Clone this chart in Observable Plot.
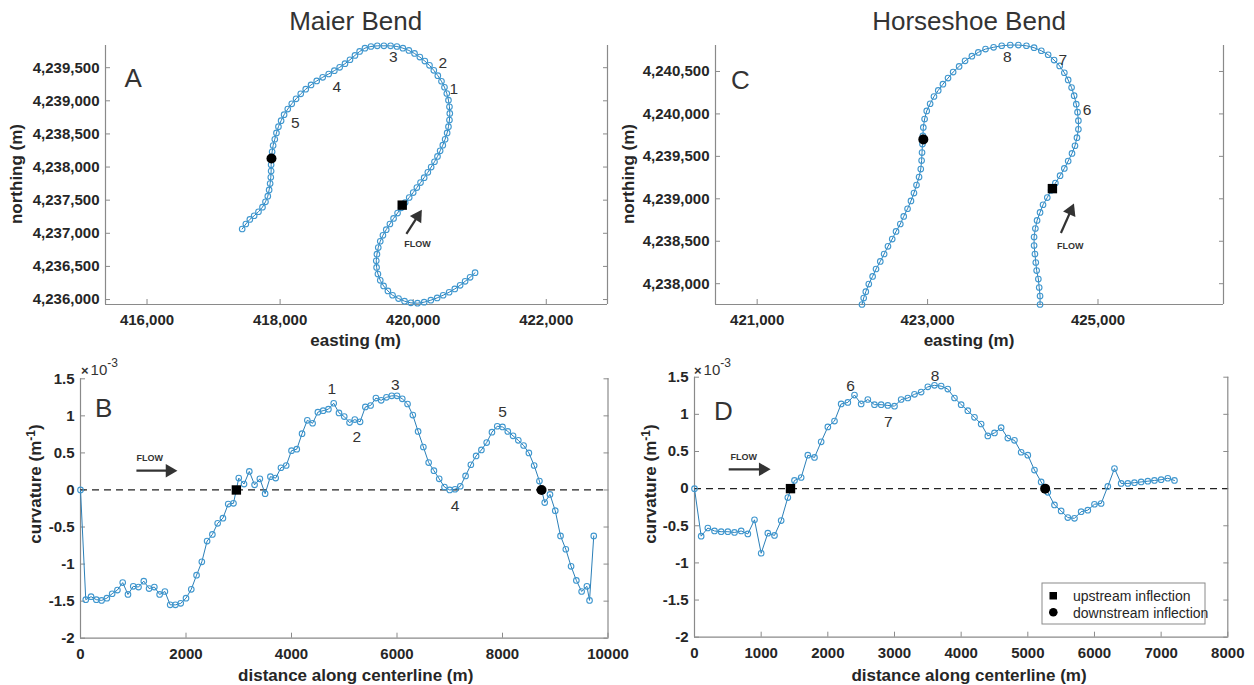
<!DOCTYPE html>
<html><head><meta charset="utf-8">
<script src="https://cdn.jsdelivr.net/npm/d3@7"></script>
<script src="https://cdn.jsdelivr.net/npm/@observablehq/plot@0.6"></script>
<style>
html,body{margin:0;padding:0;background:#fff;}
#root{position:relative;width:1254px;height:685px;overflow:hidden;font-family:"Liberation Sans",Arial,Helvetica,sans-serif;}
.panel{position:absolute;}
</style></head><body><div id="root"></div>
<script>
// ---------------- DATA ----------------
// Panel A: Maier Bend centerline (easting, northing in m), upstream end first
const eastA = [420930,420855,420780,420705,420625,420540,420450,420360,420265,420165,420065,419965,419870,419780,419690,419620,419555,419505,419470,419450,419445,419455,419475,419505,419545,419595,419650,419705,419765,419820,
419880,419940,420000,420055,420110,420165,420220,420270,420320,420365,420405,420445,420480,420510,420530,420545,420550,420545,420530,420505,420470,420425,420370,420310,420245,420175,420100,420020,419935,419845,419755,419660,419560,419460,419365,419275,419195,419125,419050,418975,418895,418815,418730,418640,418550,418465,418385,418310,418240,418175,418115,418060,418015,417975,417945,417920,417895,417880,
417865,417865,417860,417850,417835,417815,417780,417735,417675,417610,417545,417485,417430];
const northA = [4236405,4236335,4236275,4236215,4236160,4236110,4236065,4236025,4235990,4235960,4235945,4235950,4235975,4236015,4236065,4236130,4236205,4236290,4236385,4236485,4236585,4236685,4236785,4236880,4236970,4237055,4237140,4237225,4237305,4237385,
4237465,4237540,4237615,4237690,4237765,4237840,4237920,4238000,4238080,4238160,4238245,4238330,4238420,4238515,4238610,4238710,4238810,4238910,4239010,4239110,4239205,4239295,4239380,4239460,4239535,4239600,4239660,4239715,4239760,4239795,4239820,4239830,4239830,4239830,4239820,4239795,4239745,4239685,4239620,4239560,4239505,4239455,4239405,4239355,4239300,4239240,4239175,4239105,4239030,4238955,4238875,4238790,4238700,4238610,4238515,4238420,4238325,4238230,
4238035,4237940,4237845,4237750,4237655,4237560,4237475,4237395,4237325,4237265,4237210,4237140,4237065];
const inflA = {up: [419835, 4237425], down: [417870, 4238130]};
const bendLabelsA = ["1","2","3","4","5"];
const bendEastA = [420610,420444,419700,418851,418230];
const bendNorthA = [4239173,4239564,4239659,4239208,4238661];

// Panel C: Horseshoe Bend centerline
const eastC = [424320,424320,424310,424300,424280,424270,424260,424250,424250,424265,424285,424320,424355,424405,424450,
424500,424555,424605,424650,424695,424730,424753,424770,424770,424760,424745,424720,424690,424650,424605,424550,424485,424415,424335,424250,424160,424065,423970,423870,423775,423680,423595,423520,423440,423370,423300,423240,423180,423125,423075,423030,422990,422965,422950,422945,422940,422935,422930,422920,422900,422870,422840,422805,422765,422720,422680,422630,422585,422535,422490,422445,422395,422355,422310,422275,422250,422230];
const northC = [4237755,4237855,4237955,4238055,4238155,4238250,4238350,4238450,4238550,4238650,4238745,4238840,4238930,4239015,4239100,
4239185,4239272,4239358,4239445,4239535,4239625,4239720,4239818,4239920,4240020,4240115,4240215,4240310,4240400,4240485,4240565,4240634,4240697,4240744,4240780,4240803,4240811,4240811,4240803,4240785,4240764,4240725,4240680,4240625,4240560,4240493,4240422,4240350,4240277,4240205,4240120,4240035,4239940,4239841,4239743,4239645,4239545,4239450,4239350,4239256,4239162,4239068,4238975,4238883,4238793,4238703,4238616,4238526,4238440,4238350,4238263,4238173,4238086,4237996,4237906,4237831,4237755];
const inflC = {up: [424465, 4239120], down: [422950, 4239700]};
const bendLabelsC = ["6","7","8"];
const bendEastC = [424871,424588,423937];
const bendNorthC = [4240049,4240638,4240670];

// Panel B: Maier Bend curvature (x 10^-3 1/m) vs distance (m)
const distB = [0,100,200,300,400,500,600,700,800,900,1000,1100,1200,1300,1400,1500,1600,1700,1800,1900,2000,2100,2200,2300,2400,2500,2600,2700,2800,2900,3000,3100,3200,3300,3400,3500,3600,3700,3800,3900,4000,4100,4200,4300,4400,4500,4600,4700,4800,4900,5000,5100,5200,5300,5400,5500,5600,5700,5800,5900,6000,6100,6200,6300,6400,6500,6600,6700,6800,6900,7000,7100,7200,7300,7400,7500,7600,7700,7800,7900,8000,8100,8200,8300,8400,8500,8600,8700,8800,8900,9000,9100,9200,9300,9400,9500,9600,9650,9730];
const curvB = [0,-1.48,-1.44,-1.48,-1.49,-1.46,-1.40,-1.35,-1.25,-1.41,-1.30,-1.31,-1.23,-1.33,-1.31,-1.41,-1.37,-1.55,-1.55,-1.53,-1.46,-1.34,-1.15,-0.97,-0.69,-0.60,-0.45,-0.38,-0.19,-0.18,0.16,0.08,0.25,0.07,0.15,-0.05,0.18,0.16,0.30,0.33,0.53,0.55,0.76,0.94,0.90,1.05,1.07,1.09,1.17,1.04,0.99,0.91,0.95,0.92,1.12,1.14,1.24,1.21,1.25,1.27,1.27,1.23,1.16,1.01,0.79,0.58,0.37,0.26,0.15,0.04,0.00,0.01,0.05,0.19,0.34,0.46,0.54,0.64,0.78,0.86,0.85,0.79,0.73,0.67,0.60,0.50,0.33,0.12,-0.17,-0.06,-0.28,-0.62,-0.80,-1.03,-1.22,-1.37,-1.30,-1.49,-0.62];
const inflB = {up: 2955, down: 8740};
const bendLabelsB = ["1","2","3","4","5"];
const bendDistB = [4764,5238,5970,7099,8000];
const bendCurvB = [1.36,0.71,1.41,-0.21,1.05];

// Panel D: Horseshoe Bend curvature
const distD = [0,100,200,300,400,500,600,700,800,900,1000,1100,1200,1300,1400,1500,1600,1700,1800,1900,2000,2100,2200,2300,2400,2500,2600,2700,2800,2900,3000,3100,3200,3300,3400,3500,3600,3700,3800,3900,4000,4100,4200,4300,4400,4500,4600,4700,4800,4900,5000,5100,5200,5300,5400,5500,5600,5700,5800,5900,6000,6100,6200,6300,6400,6500,6600,6700,6800,6900,7000,7100,7200];
const curvD = [0,-0.64,-0.53,-0.57,-0.58,-0.58,-0.59,-0.57,-0.61,-0.42,-0.87,-0.60,-0.63,-0.43,-0.12,0.11,0.15,0.45,0.42,0.63,0.83,0.91,1.14,1.16,1.26,1.14,1.20,1.13,1.13,1.12,1.11,1.20,1.22,1.27,1.30,1.37,1.39,1.38,1.34,1.22,1.13,1.05,0.96,0.87,0.71,0.75,0.82,0.68,0.65,0.49,0.45,0.25,0.09,-0.05,-0.22,-0.30,-0.39,-0.40,-0.31,-0.29,-0.21,-0.20,0.03,0.27,0.07,0.07,0.08,0.09,0.10,0.11,0.12,0.14,0.11];
const inflD = {up: 1440, down: 5260};
const bendLabelsD = ["6","7","8"];
const bendDistD = [2341,2907,3607];
const bendCurvD = [1.38,0.90,1.52];

// Tick values
const xTicksA = [416000,418000,420000,422000];
const yTicksA = [4236000,4236500,4237000,4237500,4238000,4238500,4239000,4239500];
const xTicksC = [421000,423000,425000];
const yTicksC = [4238000,4238500,4239000,4239500,4240000,4240500];
const xTicksB = [0,2000,4000,6000,8000,10000];
const xTicksD = [0,1000,2000,3000,4000,5000,6000,7000,8000];
const yTicksCurv = [-2,-1.5,-1,-0.5,0,0.5,1,1.5];

// Flow arrows (tail, head) and FLOW text positions
const flowA = {tail: [419898, 4236992], head: [420067, 4237256], angle: 32.7, text: [420063, 4236842]};
const flowC = {tail: [424565, 4238597], head: [424681, 4238860], angle: 23.8, text: [424675, 4238440]};
const flowB = {tail: [1060, 0.26], head: [1690, 0.26], angle: 90, text: [1315, 0.435]};
const flowD = {tail: [513, 0.26], head: [1025, 0.26], angle: 90, text: [739, 0.42]};

// ---------------- STYLE ----------------
const FONT = "'Liberation Sans', Arial, Helvetica, sans-serif";
const STYLE = `overflow: visible; background: transparent; font-family: ${FONT};`;
const AXIS = "#8a8a8a";
const TXT = "#262626";
const LINE = "#2b7fb8";
const MARK = "#3f97cf";
const ANN = "#333333";
const fmtComma = d3.format(",");
const fmtPlain = d => String(d);

function commonMarks(o) {
  return [
    Plot.ruleX(o.xd, {stroke: AXIS, strokeWidth: 1.2}),
    Plot.ruleY([o.yd[0]], {stroke: AXIS, strokeWidth: 1.2}),
    Plot.axisX(o.xt, {anchor: "bottom", tickSize: -5, tickPadding: 15, stroke: AXIS, fill: TXT, fontSize: 15, fontWeight: "bold", tickFormat: o.xf, label: null}),
    Plot.axisY(o.yt, {anchor: "left", tickSize: -5, tickPadding: 11, stroke: AXIS, fill: TXT, fontSize: 15, fontWeight: "bold", tickFormat: o.yf, label: null}),
    Plot.axisY(o.yt, {anchor: "right", tickSize: -5, stroke: AXIS, fill: "none", label: null})
  ];
}

function flowMarks(f) {
  return [
    Plot.link([f], {x1: d => d.tail[0], y1: d => d.tail[1], x2: d => d.head[0], y2: d => d.head[1], stroke: ANN, strokeWidth: 2.2}),
    Plot.dot([f], {x: d => d.head[0], y: d => d.head[1], symbol: "triangle", r: 5, fill: ANN, stroke: "none", rotate: f.angle}),
    Plot.text([f], {x: d => d.text[0], y: d => d.text[1], text: () => "FLOW", fontSize: 9, fontWeight: "bold", fill: ANN})
  ];
}

function panel(o) {
  const pts = o.X.map((x, i) => ({x, y: o.Y[i]}));
  const labs = o.labs.map((t, i) => ({t, x: o.labX[i], y: o.labY[i]}));
  const marks = [
    ...commonMarks(o),
    ...(o.zero ? [Plot.ruleY([0], {stroke: "#222", strokeWidth: 1.2, strokeDasharray: "7,5"})] : []),
    Plot.line(pts, {x: "x", y: "y", stroke: LINE, strokeWidth: 1}),
    Plot.dot(pts, {x: "x", y: "y", r: 2.8, stroke: MARK, strokeWidth: 1.1, fill: "none"}),
    Plot.dot([o.up], {x: d => d[0], y: d => d[1], symbol: "square", r: 5.3, fill: "black", stroke: "none"}),
    Plot.dot([o.down], {x: d => d[0], y: d => d[1], symbol: "circle", r: 5, fill: "black", stroke: "none"}),
    Plot.text(labs, {x: "x", y: "y", text: "t", fontSize: 15.5, fill: ANN}),
    ...flowMarks(o.flow),
    Plot.text([o.letter], {frameAnchor: "top-left", text: d => d, dx: o.ldx, dy: o.ldy, textAnchor: "start", fontSize: 26, fill: ANN})
  ];
  const chart = Plot.plot({
    width: o.width, height: o.height,
    marginLeft: o.ml, marginRight: o.mr, marginTop: o.mt, marginBottom: o.mb,
    style: STYLE,
    x: {domain: o.xd}, y: {domain: o.yd},
    marks
  });
  const d = document.createElement("div");
  d.className = "panel";
  d.style.left = o.left + "px";
  d.style.top = o.top + "px";
  d.appendChild(chart);
  document.getElementById("root").appendChild(d);
}

panel({left: 0, top: 0, width: 620, height: 340, ml: 105, mr: 13, mt: 45, mb: 36,
  xd: [415376, 422920], yd: [4235925, 4239835], xt: xTicksA, yt: yTicksA, xf: fmtComma, yf: fmtComma,
  X: eastA, Y: northA, up: inflA.up, down: inflA.down,
  labs: bendLabelsA, labX: bendEastA, labY: bendNorthA, flow: flowA, letter: "A", ldx: 19, ldy: 23.5});

panel({left: 620, top: 0, width: 634, height: 340, ml: 95, mr: 31, mt: 45, mb: 36,
  xd: [420511, 426473], yd: [4237755, 4240806], xt: xTicksC, yt: yTicksC, xf: fmtComma, yf: fmtComma,
  X: eastC, Y: northC, up: inflC.up, down: inflC.down,
  labs: bendLabelsC, labX: bendEastC, labY: bendNorthC, flow: flowC, letter: "C", ldx: 15.5, ldy: 25.5});

panel({left: 0, top: 340, width: 620, height: 345, ml: 80, mr: 12.5, mt: 38.3, mb: 47.3, zero: true,
  xd: [0, 10000], yd: [-2, 1.5], xt: xTicksB, yt: yTicksCurv, xf: fmtPlain, yf: fmtPlain,
  X: distB, Y: curvB, up: [inflB.up, 0], down: [inflB.down, 0],
  labs: bendLabelsB, labX: bendDistB, labY: bendCurvB, flow: flowB, letter: "B", ldx: 14.5, ldy: 20});

panel({left: 620, top: 340, width: 634, height: 345, ml: 74, mr: 26.7, mt: 36.7, mb: 48.3, zero: true,
  xd: [0, 8000], yd: [-2, 1.5], xt: xTicksD, yt: yTicksCurv, xf: fmtPlain, yf: fmtPlain,
  X: distD, Y: curvD, up: [inflD.up, 0], down: [inflD.down, 0],
  labs: bendLabelsD, labX: bendDistD, labY: bendCurvD, flow: flowD, letter: "D", ldx: 19.5, ldy: 24.6});

// ---------------- TITLES, AXIS LABELS, LEGEND ----------------
const ov = document.createElementNS("http://www.w3.org/2000/svg", "svg");
ov.setAttribute("width", 1254); ov.setAttribute("height", 685);
ov.style.position = "absolute"; ov.style.left = "0"; ov.style.top = "0"; ov.style.fontFamily = FONT;
ov.innerHTML = `
<g fill="#333" font-size="26" text-anchor="middle">
  <text x="355.7" y="30">Maier Bend</text>
  <text x="969" y="30">Horseshoe Bend</text>
</g>
<g fill="${TXT}" font-size="17" font-weight="bold" text-anchor="middle">
  <text x="355.7" y="346">easting (m)</text>
  <text x="969" y="346">easting (m)</text>
  <text x="355.7" y="681">distance along centerline (m)</text>
  <text x="969" y="681">distance along centerline (m)</text>
  <text transform="translate(22,174) rotate(-90)">northing (m)</text>
  <text transform="translate(634,174) rotate(-90)">northing (m)</text>
  <text transform="translate(41,484) rotate(-90)">curvature (m<tspan font-size="12" dy="-6">-1</tspan><tspan dy="6">)</tspan></text>
  <text transform="translate(656,484) rotate(-90)">curvature (m<tspan font-size="12" dy="-6">-1</tspan><tspan dy="6">)</tspan></text>
</g>
<g fill="#333" font-size="15">
  <text x="81" y="375"><tspan font-size="13" font-weight="bold">×</tspan><tspan dx="2">10</tspan><tspan font-size="12" dy="-8">-3</tspan></text>
  <text x="694" y="375"><tspan font-size="13" font-weight="bold">×</tspan><tspan dx="2">10</tspan><tspan font-size="12" dy="-8">-3</tspan></text>
</g>
<g>
  <rect x="1042" y="583" width="163" height="41" fill="white" stroke="#8a8a8a" stroke-width="1"/>
  <rect x="1049.5" y="592" width="7.5" height="7.5" fill="black"/>
  <circle cx="1053.3" cy="612.3" r="4.3" fill="black"/>
  <text x="1073" y="600.5" font-size="14" fill="${TXT}">upstream inflection</text>
  <text x="1073" y="617.5" font-size="14" fill="${TXT}">downstream inflection</text>
</g>`;
document.getElementById("root").appendChild(ov);
</script>
</body></html>
